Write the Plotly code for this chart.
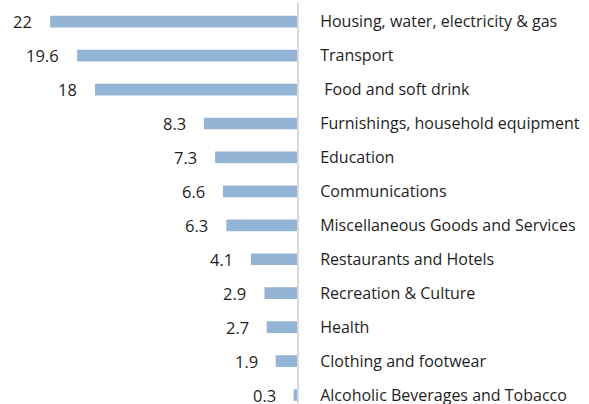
import plotly.graph_objects as go

categories = [
    "Housing, water, electricity & gas",
    "Transport",
    "\u00a0Food and soft drink",
    "Furnishings, household equipment",
    "Education",
    "Communications",
    "Miscellaneous Goods and Services",
    "Restaurants and Hotels",
    "Recreation & Culture",
    "Health",
    "Clothing and footwear",
    "Alcoholic Beverages and Tobacco",
]
values = [22, 19.6, 18, 8.3, 7.3, 6.6, 6.3, 4.1, 2.9, 2.7, 1.9, 0.3]
value_labels = ["22", "19.6", "18", "8.3", "7.3", "6.6", "6.3", "4.1", "2.9", "2.7", "1.9", "0.3"]

FONT = "Open Sans"
BAR_COLOR = "#93b4d5"
TEXT_COLOR = "#1e1e1e"

fig = go.Figure()
fig.add_trace(go.Bar(
    x=values,
    y=categories,
    orientation="h",
    marker=dict(color=BAR_COLOR, line=dict(width=0)),
    width=0.345,
    hoverinfo="skip",
))

for v, c, t in zip(values, categories, value_labels):
    fig.add_annotation(
        x=v, y=c, xref="x", yref="y",
        text=t, showarrow=False,
        xanchor="right", yanchor="middle",
        xshift=-16,
        font=dict(family=FONT, size=16.5, color=TEXT_COLOR),
    )

fig.update_layout(
    width=589, height=404,
    margin=dict(l=0, r=292, t=3, b=0),
    paper_bgcolor="white",
    plot_bgcolor="white",
    showlegend=False,
    xaxis=dict(
        range=[26.47, 0],
        showgrid=False, zeroline=False, showticklabels=False,
        showline=False, fixedrange=True,
    ),
    yaxis=dict(
        type="category",
        categoryorder="array", categoryarray=categories,
        range=[11.265, -0.551],
        side="right",
        showline=True, linecolor="#d9d9d9", linewidth=2,
        showgrid=False, zeroline=False,
        ticks="",
        ticklabelstandoff=18,
        tickfont=dict(family=FONT, size=16, color=TEXT_COLOR),
        automargin=False,
        fixedrange=True,
    ),
)

fig.write_html(
    "out.html",
    config={"displayModeBar": False},
    post_script="document.body.style.margin='0';document.body.style.overflow='hidden';",
)
